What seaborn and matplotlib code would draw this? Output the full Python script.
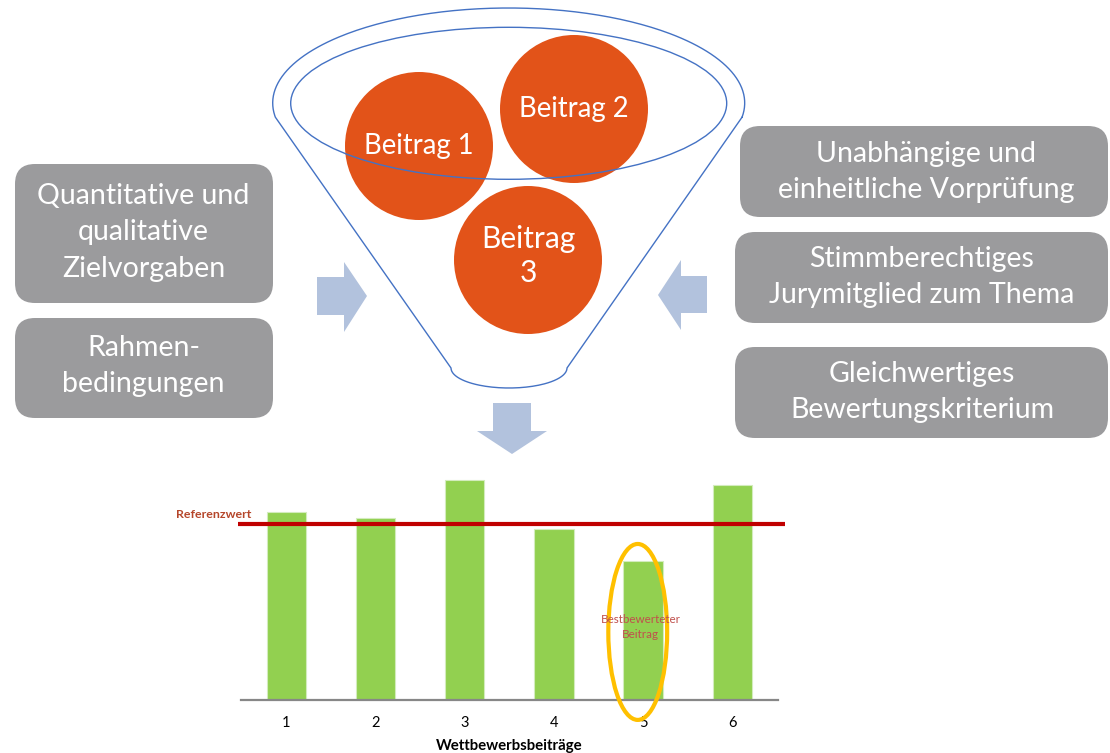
import matplotlib.pyplot as plt
import seaborn as sns
import numpy as np
import pandas as pd
from matplotlib.patches import Circle, Ellipse, FancyBboxPatch, Polygon

# bar chart data
beitraege = ['1', '2', '3', '4', '5', '6']
bewertung = [81.8, 79.2, 95.6, 74.1, 60.3, 93.3]
referenzwert = 76.3
bester_beitrag = 4  # index of the circled contribution

# diagram texts
circle_labels = ['Beitrag 1', 'Beitrag 2', 'Beitrag\n3']
left_labels = ['Quantitative und\nqualitative\nZielvorgaben', 'Rahmen-\nbedingungen']
right_labels = ['Unabhängige und\neinheitliche Vorprüfung',
                'Stimmberechtiges\nJurymitglied zum Thema',
                'Gleichwertiges\nBewertungskriterium']

# layout (pixel coordinates of the 1110x753 canvas)
circle_pos = [(419, 146), (574, 109), (528, 260)]
circle_r = 74
left_boxes = [(15, 164, 258, 139), (15, 318, 258, 100)]
left_text = [(143.5, 232), (143.5, 366)]
right_boxes = [(740, 126, 368, 91), (735, 232, 373, 91), (735, 347, 373, 91)]
right_text = [(926, 172), (922, 277), (922, 392)]

colors = {
    'box': '#9B9B9D',
    'circle': '#E25319',
    'arrow': '#B2C2DD',
    'funnel': '#4472C4',
    'bar': '#92D050',
    'ref': '#C00000',
    'ring': '#FFC000',
    'note': '#B5462A',
}

sns.set_theme(style='white')
plt.rcParams['font.family'] = ['Lato', 'DejaVu Sans']

fig = plt.figure(figsize=(11.1, 7.53), dpi=100)
bg = fig.add_axes([0, 0, 1, 1])
bg.set_xlim(0, 1110)
bg.set_ylim(753, 0)
bg.axis('off')

# circles
for (cx, cy), label in zip(circle_pos, circle_labels):
    bg.add_patch(Circle((cx, cy), circle_r, color=colors['circle'], lw=0, zorder=1))
    two_lines = '\n' in label
    bg.text(cx, cy - (4 if two_lines else 0), label, color='white',
            fontsize=21.5 if two_lines else 19.8, ha='center', va='center',
            linespacing=1.22, zorder=3)

# funnel outline: top arc, right side, bottom arc, left side
t = np.linspace(-0.15, np.pi + 0.15, 200)
top_x = 508.7 + 236 * np.cos(t)
top_y = 103 - 95 * np.sin(t)
b = np.linspace(0, np.pi, 80)
bot_x = 509 - 58 * np.cos(b)
bot_y = 368 + 20 * np.sin(b)
fx = np.concatenate([top_x, bot_x, top_x[:1]])
fy = np.concatenate([top_y, bot_y, top_y[:1]])
bg.plot(fx, fy, color=colors['funnel'], lw=1, zorder=2)
bg.add_patch(Ellipse((508.7, 103.3), 436, 152, fill=False,
                     edgecolor=colors['funnel'], lw=1, zorder=2))

# arrows
arrows = [
    [(317, 277), (344, 277), (344, 262), (367, 296), (344, 332), (344, 315), (317, 315)],
    [(707, 276), (681, 276), (681, 260), (658, 295), (681, 330), (681, 313), (707, 313)],
    [(493, 403), (531, 403), (531, 431), (547, 431), (512, 454), (477, 431), (493, 431)],
]
for pts in arrows:
    bg.add_patch(Polygon(pts, closed=True, color=colors['arrow'], lw=0))

# grey boxes
for (x, y, w, h) in left_boxes + right_boxes:
    bg.add_patch(FancyBboxPatch((x, y), w, h, boxstyle='round,pad=0,rounding_size=20',
                                facecolor=colors['box'], edgecolor='none'))
for (x, y), label in zip(left_text + right_text, left_labels + right_labels):
    bg.text(x, y, label, color='white', fontsize=20.5, ha='center', va='center',
            linespacing=1.5)

# bar chart
ax = fig.add_axes([241 / 1110, 1 - 699.7 / 753, 536.7 / 1110, 229.7 / 753])
ax.patch.set_visible(False)
df = pd.DataFrame({'Beitrag': beitraege, 'Bewertung': bewertung})
sns.barplot(data=df, x='Beitrag', y='Bewertung', color=colors['bar'], saturation=1,
            width=0.44, edgecolor='#D3ECBD', linewidth=0.8, ax=ax)
ax.set_xlim(-0.51, 5.51)
ax.set_ylim(0, 100)
ax.hlines(referenzwert, -0.54, 5.59, color=colors['ref'], lw=3, clip_on=False, zorder=4)
ax.text(-0.82, referenzwert + 4.4, 'Referenzwert', color=colors['note'], fontsize=8.9,
        fontweight='bold', ha='center', va='center')

ax.add_patch(Ellipse((bester_beitrag - 0.06, 29.5), 0.66, 76.6, fill=False,
                     edgecolor=colors['ring'], lw=3, clip_on=False, zorder=5))
ax.text(bester_beitrag - 0.03, 31.6, 'Bestbewerteter\nBeitrag', color='#C0504D',
        fontsize=8.4, ha='center', va='center', linespacing=1.45, zorder=6)

for side in ['top', 'left', 'right']:
    ax.spines[side].set_visible(False)
ax.spines['bottom'].set_color('#878787')
ax.spines['bottom'].set_linewidth(1.6)
ax.set_yticks([])
ax.set_ylabel('')
ax.tick_params(axis='x', length=0, pad=11.5, labelsize=10.5, colors='black')
ax.set_xlabel('Wettbewerbsbeiträge', fontsize=10.8, fontweight='bold', color='black')
ax.xaxis.label.set_va('center')
ax.xaxis.set_label_coords(0.5, -0.2016)

plt.savefig('out.png', dpi=100)
